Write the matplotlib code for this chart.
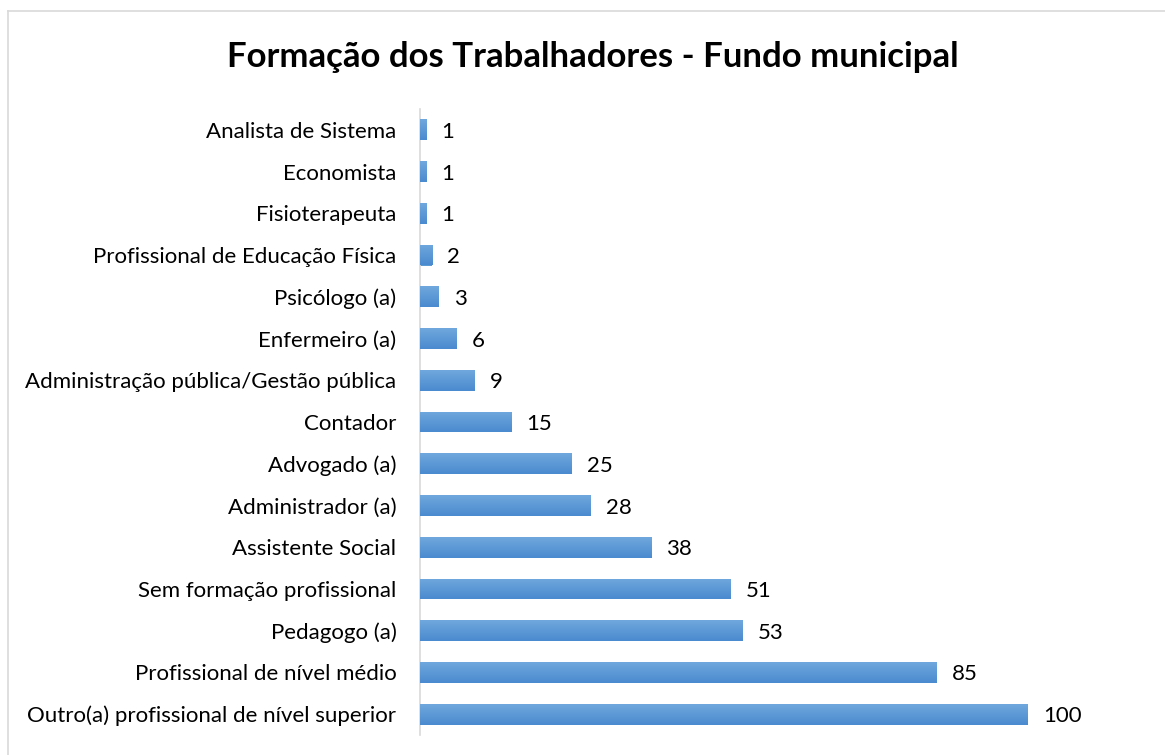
import matplotlib
matplotlib.use("Agg")
import matplotlib.pyplot as plt
import numpy as np
from matplotlib.lines import Line2D
from matplotlib.colors import LinearSegmentedColormap

categories = [
    "Analista de Sistema",
    "Economista",
    "Fisioterapeuta",
    "Profissional de Educação Física",
    "Psicólogo (a)",
    "Enfermeiro (a)",
    "Administração pública/Gestão pública",
    "Contador",
    "Advogado (a)",
    "Administrador (a)",
    "Assistente Social",
    "Sem formação profissional",
    "Pedagogo (a)",
    "Profissional de nível médio",
    "Outro(a) profissional de nível superior",
]
values = [1, 1, 1, 2, 3, 6, 9, 15, 25, 28, 38, 51, 53, 85, 100]
title = "Formação dos Trabalhadores - Fundo municipal"

plt.rcParams['font.family'] = ['Lato', 'DejaVu Sans']

W, H = 1165, 755
fig = plt.figure(figsize=(W / 100, H / 100), dpi=100)
fig.patch.set_facecolor('white')

left, right, top, bottom = 420, 1107, 109, 735
ax = fig.add_axes([left / W, 1 - bottom / H, (right - left) / W, (bottom - top) / H])

y = list(range(len(categories)))
bars = ax.barh(y, values, height=0.5, color='#5B9BD5', edgecolor='none', zorder=2)
ax.set_ylim(len(categories) - 0.5, -0.5)
ax.set_xlim(0, 113)

# vertical gradient fill on each bar (lighter at top, darker at bottom)
cmap = LinearSegmentedColormap.from_list('barg', ['#70A8DD', '#4A8ACF'])
grad = np.linspace(0, 1, 64).reshape(-1, 1)
for b in bars:
    x0, y0 = b.get_x(), b.get_y()
    w, h = b.get_width(), b.get_height()
    im = ax.imshow(grad, cmap=cmap, aspect='auto', origin='upper',
                   extent=[x0, x0 + w, y0 + h, y0], zorder=3, interpolation='bilinear')
    im.set_clip_path(b)
ax.set_ylim(len(categories) - 0.5, -0.5)
ax.set_xlim(0, 113)

ax.set_yticks(y)
ax.set_yticklabels(categories, fontsize=16, color='#000000')
ax.tick_params(axis='y', length=0, pad=17)
ax.set_xticks([])
for s in ['top', 'right', 'bottom']:
    ax.spines[s].set_visible(False)
ax.spines['left'].set_color('#D9D9D9')
ax.spines['left'].set_linewidth(1.2)

for yi, v in zip(y, values):
    ax.annotate(str(v), (v, yi), xytext=(11, -1.5), textcoords='offset points',
                va='center', ha='left', fontsize=16, color='#000000')

fig.text(593 / W, 1 - 57 / H, title, ha='center', va='center',
         fontsize=25, fontweight='bold', color='#000000')

fig.add_artist(Line2D([8 / W, 1], [1 - 11 / H, 1 - 11 / H], color='#D9D9D9', lw=1.2,
                      transform=fig.transFigure))
fig.add_artist(Line2D([8 / W, 8 / W], [0, 1 - 11 / H], color='#D9D9D9', lw=1.2,
                      transform=fig.transFigure))

fig.savefig('out.png', dpi=100)
